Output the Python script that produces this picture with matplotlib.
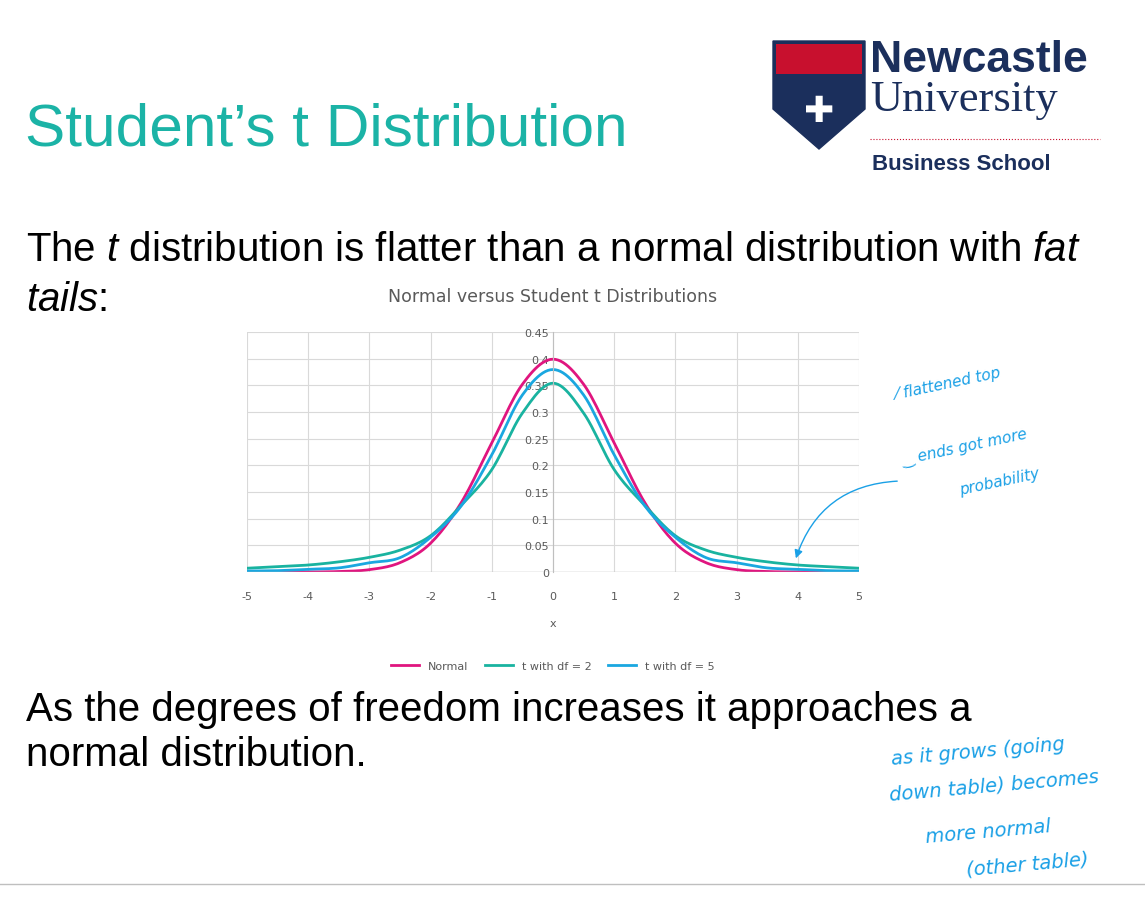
import matplotlib
matplotlib.use("Agg")
import numpy as np
import matplotlib.pyplot as plt
from matplotlib.patches import Polygon, FancyArrowPatch

plt.rcParams["mathtext.fontset"] = "custom"
plt.rcParams["mathtext.it"] = "Liberation Sans:italic"
plt.rcParams["mathtext.rm"] = "Liberation Sans"

x = [-5, -4.5, -4, -3.5, -3, -2.5, -2, -1.5, -1, -0.5, 0, 0.5, 1, 1.5, 2, 2.5, 3, 3.5, 4, 4.5, 5]
half_normal = [0.0000015, 0.00002, 0.0001, 0.0009, 0.0044, 0.0175, 0.054, 0.130, 0.242, 0.352, 0.399]
half_t2 = [0.0071, 0.0100, 0.0131, 0.0190, 0.0275, 0.041, 0.068, 0.125, 0.192, 0.298, 0.354]
half_t5 = [0.0018, 0.0025, 0.0051, 0.0077, 0.0173, 0.0269, 0.0651, 0.124, 0.2197, 0.332, 0.3796]
normal = half_normal + half_normal[-2::-1]
t2 = half_t2 + half_t2[-2::-1]
t5 = half_t5 + half_t5[-2::-1]
yticks = [0, 0.05, 0.1, 0.15, 0.2, 0.25, 0.3, 0.35, 0.4, 0.45]
xticks = [-5, -4, -3, -2, -1, 0, 1, 2, 3, 4, 5]

def smooth(xs, ys, n=12):
    # Catmull-Rom rendering of the points (like Excel's smoothed line)
    xs = np.asarray(xs, float); ys = np.asarray(ys, float)
    P = np.column_stack([xs, ys])
    P = np.vstack([P[0], P, P[-1]])
    out = []
    for i in range(1, len(P) - 2):
        p0, p1, p2, p3 = P[i-1], P[i], P[i+1], P[i+2]
        for t in np.linspace(0, 1, n, endpoint=False):
            t2_, t3_ = t*t, t*t*t
            out.append(0.5*((2*p1) + (-p0+p2)*t + (2*p0-5*p1+4*p2-p3)*t2_ + (-p0+3*p1-3*p2+p3)*t3_))
    out.append(P[-2])
    out = np.array(out)
    return out[:, 0], out[:, 1]

W, H = 1145, 903
fig = plt.figure(figsize=(W/100, H/100), dpi=100)
fig.patch.set_facecolor("white")

def fx(p): return p / W
def fy(p): return 1 - p / H

teal = "#1BB3A6"
fig.text(fx(25), fy(130), "Student’s t Distribution", color=teal, fontsize=43.5, va="center", family="Liberation Sans")
fig.text(fx(26), fy(250), "The $\\it{t}$ distribution is flatter than a normal distribution with $\\it{fat}$",
         fontsize=29, va="center", family="Liberation Sans")
fig.text(fx(26), fy(300), "$\\it{tails}$:", fontsize=29, va="center", family="Liberation Sans")
fig.text(fx(26), fy(710), "As the degrees of freedom increases it approaches a", fontsize=29, va="center", family="Liberation Sans")
fig.text(fx(26), fy(755), "normal distribution.", fontsize=29, va="center", family="Liberation Sans")

# logo
navy = "#1B2F5C"
shield = Polygon([[fx(773), fy(42)], [fx(865), fy(42)], [fx(865), fy(110)], [fx(819), fy(150)], [fx(773), fy(110)]],
                 closed=True, facecolor=navy, edgecolor=navy, transform=fig.transFigure)
fig.patches.append(shield)
red = Polygon([[fx(776), fy(45)], [fx(862), fy(45)], [fx(862), fy(75)], [fx(776), fy(75)]],
              closed=True, facecolor="#C8102E", transform=fig.transFigure)
fig.patches.append(red)
fig.text(fx(819), fy(112), "✚", color="white", fontsize=26, ha="center", va="center")
fig.text(fx(870), fy(60), "Newcastle", color=navy, fontsize=32, weight="bold", va="center", family="Liberation Sans")
fig.text(fx(870), fy(100), "University", color=navy, fontsize=32, va="center", family="Liberation Serif")
fig.add_artist(plt.Line2D([fx(870), fx(1100)], [fy(140), fy(140)], color="#C8102E", lw=0.8, ls=":"))
fig.text(fx(872), fy(165), "Business School", color=navy, fontsize=16, weight="bold", va="center", family="Liberation Sans")

# chart
ax = fig.add_axes([fx(247), fy(573), fx(859) - fx(247), (573 - 333) / H])
for ys, c, lab in [(normal, "#E0157F", "Normal"), (t2, "#19B3A0", "t with df = 2"), (t5, "#1AA7E0", "t with df = 5")]:
    sx, sy = smooth(x, ys)
    ax.plot(sx, sy, color=c, lw=2, label=lab)
ax.set_xlim(-5, 5); ax.set_ylim(0, 0.45)
ax.set_xticks(xticks); ax.set_yticks(yticks)
ax.set_xticklabels([str(v) for v in xticks])
ax.set_yticklabels([str(v) if v else "0" for v in yticks])
ax.grid(True, color="#D9D9D9", lw=0.8)
for s in ["top", "right", "bottom"]:
    ax.spines[s].set_visible(False)
ax.spines["left"].set_position(("data", 0))
ax.spines["left"].set_color("#BFBFBF")
ax.axhline(0, color="#BFBFBF", lw=1)
ax.tick_params(axis="both", length=0, labelsize=8, colors="#595959", pad=3)
ax.tick_params(axis="x", pad=14)
ax.set_xlabel("x", fontsize=8, color="#595959", labelpad=12)
ax.set_title("Normal versus Student t Distributions", fontsize=12.5, color="#595959", pad=22)
ax.legend(loc="upper center", bbox_to_anchor=(0.5, -0.33), ncol=3, frameon=False, fontsize=8,
          labelcolor="#595959", handlelength=2.5, columnspacing=1.5)

# handwriting
blue = "#1AA0E6"
hw = dict(color=blue, fontsize=14, style="italic", family="DejaVu Sans")
fig.text(fx(895), fy(400), "⁄ flattened top", rotation=12, fontsize=11, color=blue, style="italic")
fig.text(fx(900), fy(465), "‿ ends got more", rotation=12, fontsize=11, color=blue, style="italic")
fig.text(fx(958), fy(495), "probability", rotation=12, fontsize=11, color=blue, style="italic")
fig.add_artist(FancyArrowPatch((fx(900), fy(482)), (fx(795), fy(562)), transform=fig.transFigure,
                               connectionstyle="arc3,rad=0.35", arrowstyle="-|>", mutation_scale=12,
                               color=blue, lw=1))
fig.text(fx(890), fy(765), "as it grows (going", rotation=5, **hw)
fig.text(fx(888), fy(800), "down table) becomes", rotation=5, **hw)
fig.text(fx(925), fy(843), "more normal", rotation=5, **hw)
fig.text(fx(965), fy(875), "(other table)", rotation=5, **hw)
fig.add_artist(plt.Line2D([0, 1], [fy(885), fy(885)], color="#BFBFBF", lw=1))

fig.savefig("out.png", dpi=100)
